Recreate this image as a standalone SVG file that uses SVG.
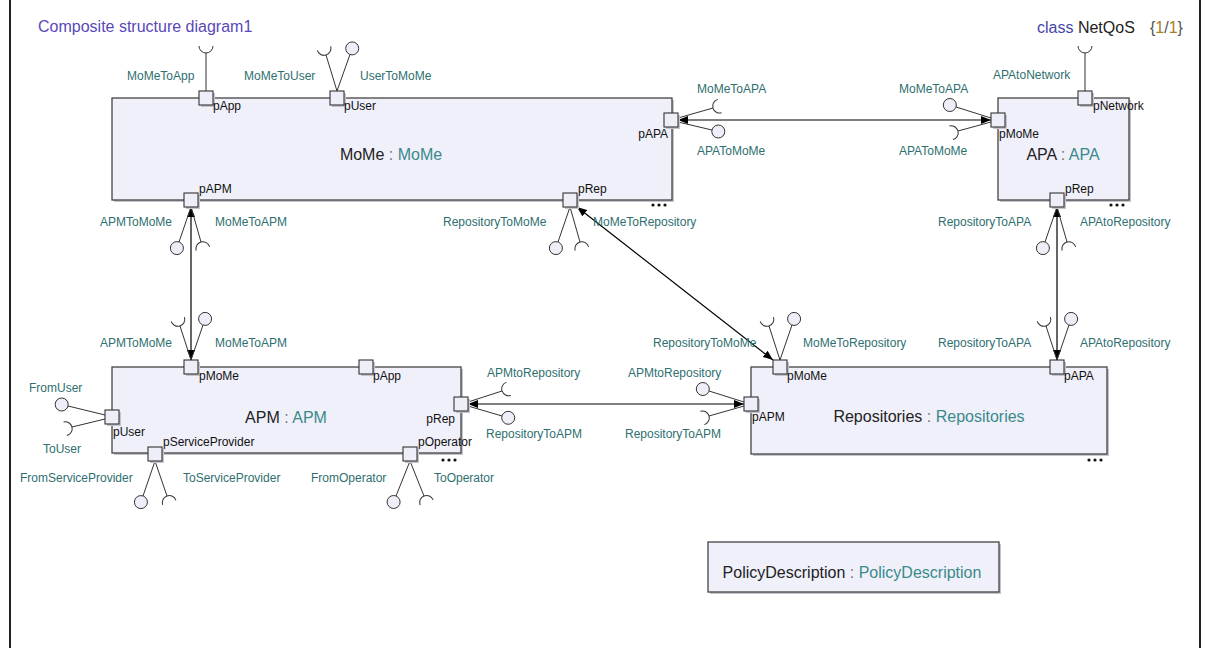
<svg xmlns="http://www.w3.org/2000/svg" xmlns:xlink="http://www.w3.org/1999/xlink" width="1209" height="648" viewBox="0 0 1209 648">
<style>
text{font-family:"Liberation Sans",Arial,sans-serif}
.box{fill:#f0f0fa;stroke:#444;stroke-width:1.3}
.sh{fill:#c4c4cc}
.port{fill:#eeeef8;stroke:#333;stroke-width:1.1}
.lbl{font-size:12px;fill:#2e6f6f}
.pl{font-size:12px;fill:#111}
.name{font-size:16px;fill:#222}
.ty{fill:#3a8a8a}
.col{fill:#777}
.if{stroke:#333;stroke-width:1;fill:none}
.ball{fill:#eeeef8;stroke:#333;stroke-width:1}
.conn{stroke:#000;stroke-width:1.2;fill:none;marker-start:url(#ah);marker-end:url(#ah)}
.dot{fill:#111}
</style>
<defs>
<marker id="ah" viewBox="0 0 10 8" refX="10" refY="4" markerWidth="10" markerHeight="8" markerUnits="userSpaceOnUse" orient="auto-start-reverse"><path d="M0,0 L10,4 L0,8 z" fill="#000"/></marker>
<path id="sock" d="M0,-7 A7,7 0 0 0 0,7" fill="none" stroke="#333" stroke-width="1"/>
<g id="dots"><circle cx="0" cy="0" r="1.6"/><circle cx="6" cy="0" r="1.6"/><circle cx="12" cy="0" r="1.6"/></g>
</defs>
<rect x="0" y="0" width="1209" height="648" fill="#fff"/>
<line x1="10" y1="0" x2="10" y2="648" stroke="#222" stroke-width="2"/>
<line x1="1200" y1="0" x2="1200" y2="648" stroke="#222" stroke-width="2"/>
<text x="38" y="32" font-size="16" fill="#5a48b8">Composite structure diagram1</text>
<text x="1037" y="33" font-size="16" fill="#222"><tspan fill="#4646a6">class</tspan> NetQoS</text>
<text x="1150" y="33" font-size="16" fill="#555">{<tspan fill="#a8801c">1</tspan>/<tspan fill="#a8801c">1</tspan>}</text>

<g id="connectors">
<line class="conn" x1="678" y1="120" x2="991" y2="120"/>
<line class="conn" x1="191" y1="207" x2="191" y2="360"/>
<line class="conn" x1="577" y1="207" x2="773" y2="360"/>
<line class="conn" x1="1057" y1="207" x2="1057" y2="360"/>
<line class="conn" x1="468" y1="404" x2="744" y2="404"/>
</g>

<g id="MoMe">
<rect class="sh" x="114" y="100" width="560" height="102"/>
<rect class="box" x="112" y="98" width="560" height="102"/>
<text class="name" x="391" y="160" text-anchor="middle">MoMe<tspan class="col"> : </tspan><tspan class="ty">MoMe</tspan></text>
<use href="#dots" x="653" y="205" class="dot"/>
<!-- pApp -->
<line class="if" x1="206" y1="91" x2="206" y2="53"/>
<use href="#sock" transform="translate(206,46) rotate(-90)"/>
<rect class="sh" x="201" y="93" width="14" height="14"/><rect class="port" x="199" y="91" width="14" height="14"/>
<text class="pl" x="213" y="110">pApp</text>
<text class="lbl" x="127" y="80">MoMeToApp</text>
<!-- pUser -->
<line class="if" x1="337" y1="91" x2="326" y2="55"/>
<use href="#sock" transform="translate(324,48.3) rotate(-107)"/>
<line class="if" x1="337" y1="91" x2="350" y2="54.5"/>
<circle class="ball" cx="352.2" cy="48.4" r="6.5"/>
<rect class="sh" x="332" y="93" width="14" height="14"/><rect class="port" x="330" y="91" width="14" height="14"/>
<text class="pl" x="344" y="110">pUser</text>
<text class="lbl" x="244" y="80">MoMeToUser</text>
<text class="lbl" x="360" y="80">UserToMoMe</text>
<!-- pAPA -->
<line class="if" x1="678" y1="118" x2="713" y2="108"/>
<use href="#sock" transform="translate(719.7,106.1) rotate(-16)"/>
<line class="if" x1="678" y1="122" x2="712" y2="130"/>
<circle class="ball" cx="718.3" cy="131.5" r="6.5"/>
<rect class="sh" x="666" y="115" width="14" height="14"/><rect class="port" x="664" y="113" width="14" height="14"/>
<text class="pl" x="668" y="138" text-anchor="end">pAPA</text>
<text class="lbl" x="697" y="93">MoMeToAPA</text>
<text class="lbl" x="697" y="155">APAToMoMe</text>
<!-- pAPM -->
<line class="if" x1="191" y1="207" x2="179" y2="242"/>
<circle class="ball" cx="176.9" cy="248.1" r="6.5"/>
<line class="if" x1="191" y1="207" x2="201" y2="242"/>
<use href="#sock" transform="translate(202.9,248.7) rotate(74)"/>
<rect class="sh" x="186" y="195" width="14" height="14"/><rect class="port" x="184" y="193" width="14" height="14"/>
<text class="pl" x="199" y="193">pAPM</text>
<text class="lbl" x="100" y="226">APMToMoMe</text>
<text class="lbl" x="215" y="226">MoMeToAPM</text>
<!-- pRep -->
<line class="if" x1="570" y1="207" x2="558" y2="242"/>
<circle class="ball" cx="555.9" cy="248.1" r="6.5"/>
<line class="if" x1="570" y1="207" x2="580" y2="242"/>
<use href="#sock" transform="translate(581.9,248.7) rotate(74)"/>
<rect class="sh" x="565" y="195" width="14" height="14"/><rect class="port" x="563" y="193" width="14" height="14"/>
<text class="pl" x="578" y="193">pRep</text>
<text class="lbl" x="443" y="226">RepositoryToMoMe</text>
<text class="lbl" x="593" y="226">MoMeToRepository</text>
</g>

<g id="APA">
<rect class="sh" x="1000" y="100" width="131" height="102"/>
<rect class="box" x="998" y="98" width="131" height="102"/>
<text class="name" x="1063" y="160" text-anchor="middle">APA<tspan class="col"> : </tspan><tspan class="ty">APA</tspan></text>
<use href="#dots" x="1111" y="205" class="dot"/>
<!-- pMoMe -->
<line class="if" x1="991" y1="118" x2="956" y2="107"/>
<circle class="ball" cx="949.8" cy="105" r="6.5"/>
<line class="if" x1="991" y1="122" x2="958" y2="131"/>
<use href="#sock" transform="translate(951.2,132.8) rotate(164.7)"/>
<rect class="sh" x="993" y="115" width="14" height="14"/><rect class="port" x="991" y="113" width="14" height="14"/>
<text class="pl" x="999" y="138">pMoMe</text>
<text class="lbl" x="899" y="93">MoMeToAPA</text>
<text class="lbl" x="899" y="155">APAToMoMe</text>
<!-- pNetwork -->
<line class="if" x1="1085" y1="91" x2="1085" y2="53"/>
<use href="#sock" transform="translate(1085,46) rotate(-90)"/>
<rect class="sh" x="1080" y="93" width="14" height="14"/><rect class="port" x="1078" y="91" width="14" height="14"/>
<text class="pl" x="1093" y="110">pNetwork</text>
<text class="lbl" x="993" y="79">APAtoNetwork</text>
<!-- pRep -->
<line class="if" x1="1057" y1="207" x2="1045" y2="242"/>
<circle class="ball" cx="1042.9" cy="248.1" r="6.5"/>
<line class="if" x1="1057" y1="207" x2="1067" y2="242"/>
<use href="#sock" transform="translate(1068.9,248.7) rotate(74)"/>
<rect class="sh" x="1052" y="195" width="14" height="14"/><rect class="port" x="1050" y="193" width="14" height="14"/>
<text class="pl" x="1065" y="193">pRep</text>
<text class="lbl" x="938" y="226">RepositoryToAPA</text>
<text class="lbl" x="1080" y="226">APAtoRepository</text>
</g>

<g id="APM">
<rect class="sh" x="114" y="369" width="349" height="86"/>
<rect class="box" x="112" y="367" width="349" height="86"/>
<text class="name" x="286" y="423" text-anchor="middle">APM<tspan class="col"> : </tspan><tspan class="ty">APM</tspan></text>
<use href="#dots" x="443" y="460" class="dot"/>
<!-- pMoMe -->
<line class="if" x1="191" y1="360" x2="180" y2="326"/>
<use href="#sock" transform="translate(177.8,319.3) rotate(-108)"/>
<line class="if" x1="191" y1="360" x2="203" y2="325"/>
<circle class="ball" cx="205.1" cy="318.9" r="6.5"/>
<rect class="sh" x="186" y="362" width="14" height="14"/><rect class="port" x="184" y="360" width="14" height="14"/>
<text class="pl" x="199" y="380">pMoMe</text>
<text class="lbl" x="100" y="347">APMToMoMe</text>
<text class="lbl" x="215" y="347">MoMeToAPM</text>
<!-- pApp -->
<rect class="sh" x="361" y="362" width="14" height="14"/><rect class="port" x="359" y="360" width="14" height="14"/>
<text class="pl" x="373" y="380">pApp</text>
<!-- pRep -->
<line class="if" x1="468" y1="402" x2="502" y2="391"/>
<use href="#sock" transform="translate(508.7,388.8) rotate(-18)"/>
<line class="if" x1="468" y1="406" x2="502" y2="416"/>
<circle class="ball" cx="508.2" cy="417.8" r="6.5"/>
<rect class="sh" x="456" y="399" width="14" height="14"/><rect class="port" x="454" y="397" width="14" height="14"/>
<text class="pl" x="455" y="423" text-anchor="end">pRep</text>
<text class="lbl" x="487" y="377">APMtoRepository</text>
<text class="lbl" x="486" y="438">RepositoryToAPM</text>
<!-- pUser -->
<line class="if" x1="105" y1="415" x2="68" y2="406"/>
<circle class="ball" cx="61.7" cy="404.5" r="6.5"/>
<line class="if" x1="105" y1="419" x2="72" y2="427"/>
<use href="#sock" transform="translate(65.2,428.7) rotate(166.4)"/>
<rect class="sh" x="107" y="412" width="14" height="14"/><rect class="port" x="105" y="410" width="14" height="14"/>
<text class="pl" x="113" y="436">pUser</text>
<text class="lbl" x="29" y="392">FromUser</text>
<text class="lbl" x="43" y="453">ToUser</text>
<!-- pServiceProvider -->
<line class="if" x1="155" y1="461" x2="143" y2="496"/>
<circle class="ball" cx="140.9" cy="502.1" r="6.5"/>
<line class="if" x1="155" y1="461" x2="167" y2="496"/>
<use href="#sock" transform="translate(169.3,502.6) rotate(71)"/>
<rect class="sh" x="150" y="449" width="14" height="14"/><rect class="port" x="148" y="447" width="14" height="14"/>
<text class="pl" x="163" y="446">pServiceProvider</text>
<text class="lbl" x="20" y="482">FromServiceProvider</text>
<text class="lbl" x="183" y="482">ToServiceProvider</text>
<!-- pOperator -->
<line class="if" x1="410" y1="461" x2="396" y2="496"/>
<circle class="ball" cx="393.6" cy="502" r="6.5"/>
<line class="if" x1="410" y1="461" x2="424" y2="496"/>
<use href="#sock" transform="translate(426.6,502.5) rotate(68.2)"/>
<rect class="sh" x="405" y="449" width="14" height="14"/><rect class="port" x="403" y="447" width="14" height="14"/>
<text class="pl" x="418" y="446">pOperator</text>
<text class="lbl" x="311" y="482">FromOperator</text>
<text class="lbl" x="434" y="482">ToOperator</text>
</g>

<g id="Repositories">
<rect class="sh" x="753" y="369" width="356" height="87"/>
<rect class="box" x="751" y="367" width="356" height="87"/>
<text class="name" x="929" y="422" text-anchor="middle">Repositories<tspan class="col"> : </tspan><tspan class="ty">Repositories</tspan></text>
<use href="#dots" x="1089" y="460" class="dot"/>
<!-- pMoMe -->
<line class="if" x1="780" y1="360" x2="769" y2="326"/>
<use href="#sock" transform="translate(766.8,319.3) rotate(-108)"/>
<line class="if" x1="780" y1="360" x2="792" y2="325"/>
<circle class="ball" cx="794.1" cy="318.9" r="6.5"/>
<rect class="sh" x="775" y="362" width="14" height="14"/><rect class="port" x="773" y="360" width="14" height="14"/>
<text class="pl" x="787" y="380">pMoMe</text>
<text class="lbl" x="653" y="347">RepositoryToMoMe</text>
<text class="lbl" x="803" y="347">MoMeToRepository</text>
<!-- pAPA -->
<line class="if" x1="1057" y1="360" x2="1046" y2="326"/>
<use href="#sock" transform="translate(1043.8,319.3) rotate(-108)"/>
<line class="if" x1="1057" y1="360" x2="1069" y2="325"/>
<circle class="ball" cx="1071.1" cy="318.9" r="6.5"/>
<rect class="sh" x="1052" y="362" width="14" height="14"/><rect class="port" x="1050" y="360" width="14" height="14"/>
<text class="pl" x="1064" y="380">pAPA</text>
<text class="lbl" x="938" y="347">RepositoryToAPA</text>
<text class="lbl" x="1080" y="347">APAtoRepository</text>
<!-- pAPM -->
<line class="if" x1="744" y1="402" x2="709" y2="391"/>
<circle class="ball" cx="702.8" cy="389" r="6.5"/>
<line class="if" x1="744" y1="406" x2="709" y2="416"/>
<use href="#sock" transform="translate(702.3,417.9) rotate(164)"/>
<rect class="sh" x="746" y="399" width="14" height="14"/><rect class="port" x="744" y="397" width="14" height="14"/>
<text class="pl" x="752" y="421">pAPM</text>
<text class="lbl" x="628" y="377">APMtoRepository</text>
<text class="lbl" x="625" y="438">RepositoryToAPM</text>
</g>

<g id="PolicyDescription">
<rect class="sh" x="710" y="544" width="291" height="50"/>
<rect class="box" x="708" y="542" width="291" height="50"/>
<text class="name" x="852" y="578" text-anchor="middle">PolicyDescription<tspan class="col"> : </tspan><tspan class="ty">PolicyDescription</tspan></text>
</g>
</svg>
